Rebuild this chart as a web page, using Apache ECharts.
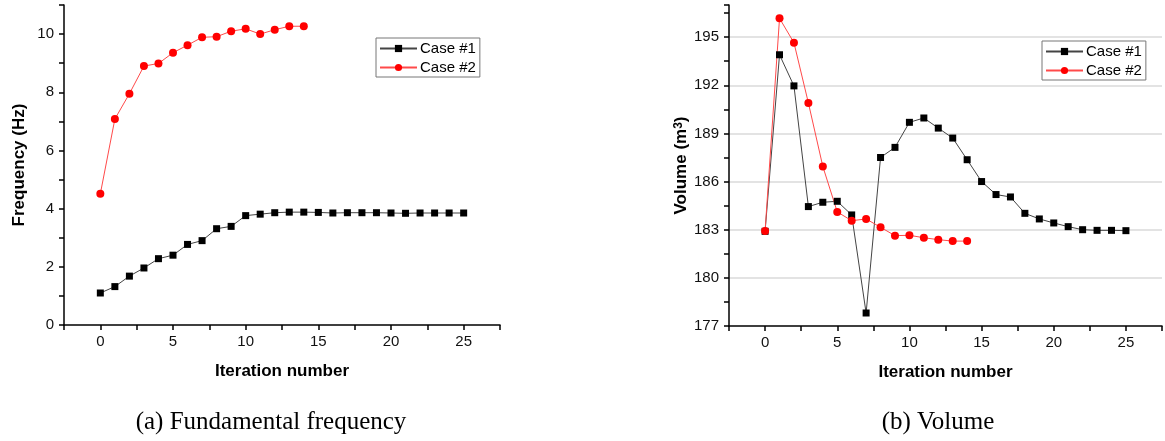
<!DOCTYPE html>
<html>
<head>
<meta charset="utf-8">
<script src="https://cdn.jsdelivr.net/npm/echarts@6/dist/echarts.min.js"></script>
<style>
html,body{margin:0;padding:0;background:#fff;}
#chart{width:1165px;height:441px;}
</style>
</head>
<body>
<div id="chart"></div>
<script>
// ---- data ----
const iterCase1 = [0,1,2,3,4,5,6,7,8,9,10,11,12,13,14,15,16,17,18,19,20,21,22,23,24,25];
const iterCase2 = [0,1,2,3,4,5,6,7,8,9,10,11,12,13,14];
const freqCase1 = [1.10,1.32,1.68,1.96,2.28,2.40,2.77,2.90,3.31,3.39,3.76,3.81,3.86,3.88,3.88,3.87,3.85,3.86,3.86,3.86,3.85,3.84,3.85,3.85,3.85,3.85];
const freqCase2 = [4.51,7.08,7.95,8.90,8.99,9.36,9.62,9.89,9.91,10.10,10.18,10.00,10.15,10.27,10.27];
const volCase1 = [182.9,193.9,191.96,184.44,184.71,184.77,183.92,177.81,187.5,188.13,189.69,189.96,189.33,188.71,187.36,186.0,185.19,185.04,184.02,183.67,183.42,183.19,183.0,182.96,182.96,182.94];
const volCase2 = [182.92,196.17,194.65,190.9,186.94,184.11,183.56,183.67,183.15,182.63,182.65,182.5,182.38,182.29,182.29];
const seriesNames = ['Case #1','Case #2'];
const xTickLabels = [0,5,10,15,20,25];
const freqTickLabels = [0,2,4,6,8,10];
const volTickLabels = [177,180,183,186,189,192,195];
const volGridValues = [180,183,186,189,192,195];
const captions = ['(a) Fundamental frequency','(b) Volume'];
const axisTitles = {x:'Iteration number', freq:'Frequency (Hz)', vol:'Volume (m{sup|3})'};

const pairs = (xs, ys) => xs.map((x,i)=>[x, ys[i]]);
const FONT = 'Liberation Sans, Arial, sans-serif';

function xAxisDef(gridIndex){
  return {
    type:'value', gridIndex, min:-2.5, max:27.5, interval:2.5,
    axisLine:{show:true, onZero:false, lineStyle:{color:'#000', width:1.5}},
    axisTick:{show:true, inside:false, length:5, lineStyle:{color:'#000', width:1.5}},
    axisLabel:{margin:9, color:'#111', fontSize:15, fontFamily:FONT,
      formatter:v=> xTickLabels.indexOf(v)>=0 ? String(v) : ''},
    splitLine:{show:false},
    name:axisTitles.x, nameLocation:'middle', nameGap:38,
    nameTextStyle:{fontWeight:'bold', fontSize:17, color:'#000', fontFamily:FONT}
  };
}

const blackLine = {color:'#444', width:1};
const redLine = {color:'#ff4a4a', width:1};
const captionStyle = {fontFamily:'Liberation Serif, serif', fontWeight:'normal', fontSize:25, color:'#000'};

const option = {
  animation:false,
  backgroundColor:'#fff',
  title:[
    {text:captions[0], left:266, top:405, textAlign:'center', textStyle:captionStyle},
    {text:captions[1], left:933, top:405, textAlign:'center', textStyle:captionStyle}
  ],
  grid:[
    {left:64, right:665, top:5, bottom:116, containLabel:false},
    {left:729, right:0, top:5, bottom:115, containLabel:false}
  ],
  legend:[
    {data:seriesNames, left:376, top:38, orient:'vertical', itemWidth:37, itemHeight:9, itemGap:4,
      padding:[3,4,2,3], borderColor:'#777', borderWidth:1, borderRadius:0,
      textStyle:{fontSize:15, fontFamily:FONT, color:'#000', padding:[0,0,0,-2]}},
    {data:seriesNames, left:1042, top:41, orient:'vertical', itemWidth:37, itemHeight:9, itemGap:4,
      padding:[3,4,2,3], borderColor:'#777', borderWidth:1, borderRadius:0,
      textStyle:{fontSize:15, fontFamily:FONT, color:'#000', padding:[0,0,0,-2]}}
  ],
  xAxis:[xAxisDef(0), xAxisDef(1)],
  yAxis:[
    {type:'value', gridIndex:0, min:0, max:11, interval:1,
      axisLine:{show:true, onZero:false, lineStyle:{color:'#000', width:1.5}},
      axisTick:{show:true, length:5, lineStyle:{color:'#000', width:1.5}},
      axisLabel:{margin:10, color:'#111', fontSize:15, fontFamily:FONT,
        formatter:v=> freqTickLabels.indexOf(v)>=0 ? String(v) : ''},
      splitLine:{show:false},
      name:axisTitles.freq, nameLocation:'middle', nameGap:36, nameRotate:90,
      nameTextStyle:{fontWeight:'bold', fontSize:17, color:'#000', fontFamily:FONT}},
    {type:'value', gridIndex:1, min:177, max:197, interval:1.5,
      axisLine:{show:true, onZero:false, lineStyle:{color:'#000', width:1.5}},
      axisTick:{show:true, length:5, lineStyle:{color:'#000', width:1.5}},
      axisLabel:{margin:10, color:'#111', fontSize:15, fontFamily:FONT,
        formatter:v=> volTickLabels.indexOf(v)>=0 ? String(v) : ''},
      splitLine:{show:false},
      name:axisTitles.vol, nameLocation:'middle', nameGap:36, nameRotate:90,
      nameTextStyle:{fontWeight:'bold', fontSize:17, color:'#000', fontFamily:FONT,
        rich:{sup:{fontSize:12, fontWeight:'bold', fontFamily:FONT, color:'#000', verticalAlign:'top', lineHeight:12}}}}
  ],
  series:[
    {name:seriesNames[0], type:'line', xAxisIndex:0, yAxisIndex:0, data:pairs(iterCase1,freqCase1),
      symbol:'rect', symbolSize:7, lineStyle:blackLine, itemStyle:{color:'#000'}},
    {name:seriesNames[1], type:'line', xAxisIndex:0, yAxisIndex:0, data:pairs(iterCase2,freqCase2),
      symbol:'circle', symbolSize:8, lineStyle:redLine, itemStyle:{color:'#ff0000'}},
    {name:seriesNames[0], type:'line', xAxisIndex:1, yAxisIndex:1, data:pairs(iterCase1,volCase1),
      symbol:'rect', symbolSize:7, lineStyle:blackLine, itemStyle:{color:'#000'},
      markLine:{silent:true, symbol:'none', label:{show:false}, z:0,
        lineStyle:{color:'#e3e3e3', width:2, type:'solid'},
        data:volGridValues.map(v=>({yAxis:v}))}},
    {name:seriesNames[1], type:'line', xAxisIndex:1, yAxisIndex:1, data:pairs(iterCase2,volCase2),
      symbol:'circle', symbolSize:8, lineStyle:redLine, itemStyle:{color:'#ff0000'}}
  ]
};
const chart = echarts.init(document.getElementById('chart'), null, {renderer:'canvas'});
chart.setOption(option);
</script>
</body>
</html>
